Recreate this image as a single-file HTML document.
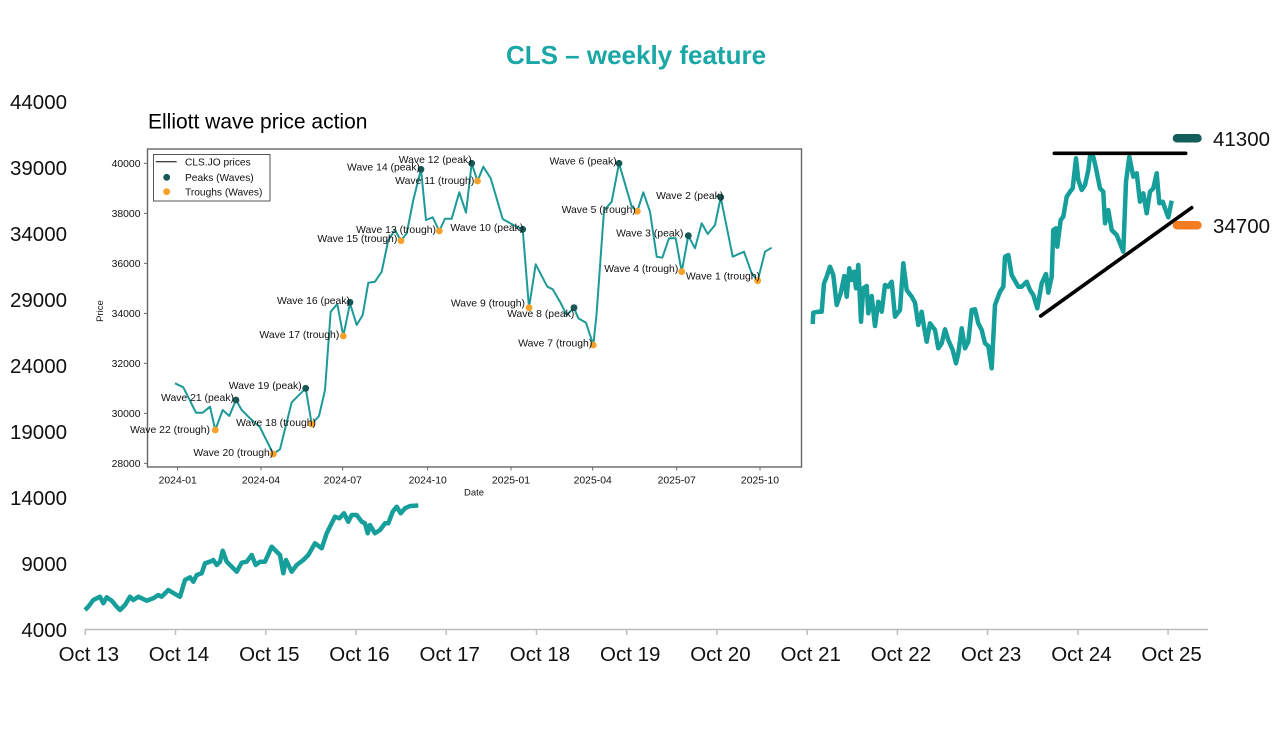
<!DOCTYPE html>
<html>
<head>
<meta charset="utf-8">
<style>
html,body{margin:0;padding:0;background:#fff;}
svg{display:block;}
text{font-family:"Liberation Sans",Arial,sans-serif;}
</style>
</head>
<body>
<svg width="1280" height="729" viewBox="0 0 1280 729" xmlns="http://www.w3.org/2000/svg">
<rect width="1280" height="729" fill="#fff"/>

<!-- Title -->
<text x="636" y="64" font-size="26" font-weight="bold" fill="#1aa7a6" text-anchor="middle">CLS – weekly feature</text>

<!-- Main y labels -->
<g font-size="20.5" fill="#111" text-anchor="end">
<text x="67" y="109">44000</text>
<text x="67" y="175">39000</text>
<text x="67" y="241">34000</text>
<text x="67" y="307">29000</text>
<text x="67" y="373">24000</text>
<text x="67" y="439">19000</text>
<text x="67" y="505">14000</text>
<text x="67" y="571">9000</text>
<text x="67" y="637">4000</text>
</g>

<!-- Main x axis -->
<line x1="85" y1="629.5" x2="1208" y2="629.5" stroke="#bdbdbd" stroke-width="1.5"/>
<g stroke="#bdbdbd" stroke-width="1.5">
<line x1="85.3" y1="629" x2="85.3" y2="635"/>
<line x1="175.5" y1="629" x2="175.5" y2="635"/>
<line x1="265.8" y1="629" x2="265.8" y2="635"/>
<line x1="356" y1="629" x2="356" y2="635"/>
<line x1="446.2" y1="629" x2="446.2" y2="635"/>
<line x1="536.5" y1="629" x2="536.5" y2="635"/>
<line x1="626.7" y1="629" x2="626.7" y2="635"/>
<line x1="716.9" y1="629" x2="716.9" y2="635"/>
<line x1="807.2" y1="629" x2="807.2" y2="635"/>
<line x1="897.4" y1="629" x2="897.4" y2="635"/>
<line x1="987.6" y1="629" x2="987.6" y2="635"/>
<line x1="1077.9" y1="629" x2="1077.9" y2="635"/>
<line x1="1168.1" y1="629" x2="1168.1" y2="635"/>
</g>
<g font-size="20.5" fill="#111" text-anchor="middle">
<text x="88.8" y="661">Oct 13</text>
<text x="179" y="661">Oct 14</text>
<text x="269.3" y="661">Oct 15</text>
<text x="359.5" y="661">Oct 16</text>
<text x="449.7" y="661">Oct 17</text>
<text x="540" y="661">Oct 18</text>
<text x="630.2" y="661">Oct 19</text>
<text x="720.4" y="661">Oct 20</text>
<text x="810.7" y="661">Oct 21</text>
<text x="900.9" y="661">Oct 22</text>
<text x="991.1" y="661">Oct 23</text>
<text x="1081.4" y="661">Oct 24</text>
<text x="1171.6" y="661">Oct 25</text>
</g>

<!-- Main series (visible parts) -->
<g fill="none" stroke="#169e9b" stroke-width="4.5" stroke-linejoin="round">
<polyline points="85,610 88.3,606.7 93.3,600 100,596.7 103.3,603.3 106.7,597.3 111.7,600.7 116.7,606.7 120,610 125,605 130,596.7 133.3,600 138.3,596.7 146.7,600.7 153.3,598.3 158.3,595 161.7,596.7 168.3,590 176.7,595 180,596.7 185,580 190,577.3 193.3,581.7 196.7,575 201.7,573.3 205,563.3 210,561.7 213.3,560 216.7,565 220,561.7 222.7,550.7 226.7,561.7 231.7,566.7 236.7,571.7 241.7,562.7 246.7,561.7 251.7,555 255.7,565 260,561.7 265,561.7 271.7,546.7 276.7,551.7 280,555 283.3,573.3 286,560 291.7,571.7 296.7,565 303.3,560 308.3,555 315,543.3 321.7,548.3 326.7,533.3 335,516.7 339.3,518.3 344,513.3 348.3,521.7 351.7,515 356.7,515 361.7,521.7 365,523.3 367.7,533.3 370,525 375,533.3 380,530 385,523.3 388.3,523.3 392.7,511.7 396.7,506.7 400.7,513.3 405,508.3 410,506 418.3,505.5"/>
<polyline points="812.7,324 813.3,312.7 818.3,311.7 821.7,311.7 824,283.3 826.7,276.7 830,266.7 833.3,275 836.7,305 840.7,293.3 844.3,276 846.7,296.7 849.3,268.3 851.7,280 854,271.7 856,288.3 858.3,265 861,321.7 863.3,288.3 866.7,286 868.3,313.3 871.7,296 875,326 878.3,301.7 881.7,311.7 885,285 888.3,286.7 891.7,281.7 895,316.7 900,310 903.3,263.3 906.7,290 911.7,296.7 915,302.7 918.3,325 921.7,311.7 924,326.7 926.7,341.7 930,323.3 935,330 938.3,348.3 941.7,343.3 945,329.3 948.3,340 952.7,350 956,363.3 958.3,353.3 961.7,328.3 965,348.3 968.3,341.7 971.7,310 975,309.3 978.3,323.3 981.7,330 985,343.3 988.3,346 991.7,368.3 995,305 1000,291.7 1003.3,286.7 1005,256.7 1008.3,255 1011.7,275 1018.3,286.7 1021.7,286.7 1026.7,281.7 1030,290 1033.3,295 1037.3,308.3 1041.7,283.3 1046,274 1048.3,292.7 1051.7,276.7 1053.3,230 1056,228.3 1057.3,246.7 1060.7,220 1063.3,216.7 1066.7,196.7 1070,191.7 1072.7,188.3 1076,158.3 1078.3,180 1081.7,190 1085,185 1088.3,170 1090,156 1093.3,156.7 1096,168.3 1100,188.3 1103.3,191.7 1105,223.3 1108.3,210 1111.7,230 1116.7,235 1123.3,251.7 1126,181.7 1129.3,156.7 1133.3,176.7 1136.7,173.3 1140,201.7 1143.3,193.3 1146.7,213.3 1150,191.7 1153.3,188.3 1156.7,173.3 1159.3,203.3 1162.7,201.7 1165,208.3 1168.3,217.3 1171.7,200.7"/>
</g>

<!-- Trend lines -->
<line x1="1054.3" y1="153.3" x2="1185.7" y2="153.3" stroke="#000" stroke-width="3.6" stroke-linecap="round"/>
<line x1="1040.7" y1="316" x2="1191.7" y2="207.7" stroke="#000" stroke-width="3.6" stroke-linecap="round"/>

<!-- Right markers -->
<rect x="1172.7" y="134" width="29" height="8.5" rx="4.25" fill="#135d5b"/>
<text x="1213" y="146" font-size="20.5" fill="#111">41300</text>
<rect x="1172.7" y="221" width="29" height="8.5" rx="4.25" fill="#f47c20"/>
<text x="1213" y="233" font-size="20.5" fill="#111">34700</text>

<!-- Inset -->
<text x="148" y="128.3" font-size="21" fill="#000">Elliott wave price action</text>
<rect x="147.5" y="149" width="654" height="318" fill="#fff" stroke="#666" stroke-width="1.4"/>

<!-- inset y ticks -->
<g stroke="#444" stroke-width="0.8">
<line x1="144" y1="163.3" x2="147" y2="163.3"/>
<line x1="144" y1="213.3" x2="147" y2="213.3"/>
<line x1="144" y1="263.3" x2="147" y2="263.3"/>
<line x1="144" y1="313.3" x2="147" y2="313.3"/>
<line x1="144" y1="363.3" x2="147" y2="363.3"/>
<line x1="144" y1="413.3" x2="147" y2="413.3"/>
<line x1="144" y1="463.3" x2="147" y2="463.3"/>
<line x1="177.7" y1="467.5" x2="177.7" y2="470.5"/>
<line x1="261" y1="467.5" x2="261" y2="470.5"/>
<line x1="342.7" y1="467.5" x2="342.7" y2="470.5"/>
<line x1="427.7" y1="467.5" x2="427.7" y2="470.5"/>
<line x1="511" y1="467.5" x2="511" y2="470.5"/>
<line x1="592.7" y1="467.5" x2="592.7" y2="470.5"/>
<line x1="676.7" y1="467.5" x2="676.7" y2="470.5"/>
<line x1="760" y1="467.5" x2="760" y2="470.5"/>
</g>
<g font-size="10.4" fill="#111" text-anchor="end">
<text x="140.5" y="167">40000</text>
<text x="140.5" y="217">38000</text>
<text x="140.5" y="267">36000</text>
<text x="140.5" y="317">34000</text>
<text x="140.5" y="367">32000</text>
<text x="140.5" y="417">30000</text>
<text x="140.5" y="467">28000</text>
</g>
<g font-size="10.4" fill="#111" text-anchor="middle">
<text x="177.7" y="483.7">2024-01</text>
<text x="261" y="483.7">2024-04</text>
<text x="342.7" y="483.7">2024-07</text>
<text x="427.7" y="483.7">2024-10</text>
<text x="511" y="483.7">2025-01</text>
<text x="592.7" y="483.7">2025-04</text>
<text x="676.7" y="483.7">2025-07</text>
<text x="760" y="483.7">2025-10</text>
</g>
<text x="474" y="495.5" font-size="9.5" fill="#111" text-anchor="middle">Date</text>
<text transform="translate(103,311) rotate(-90)" font-size="9.5" fill="#111" text-anchor="middle">Price</text>

<!-- inset series -->
<polyline fill="none" stroke="#1d9a97" stroke-width="2" stroke-linejoin="round" points="175,383.3 183.3,387.3 196,412.7 202.7,412.7 210,406.7 215.3,430 222.7,410 229.3,416 236,400 241.7,410 250,418.3 260,427.3 273.3,454 280,449.3 291.7,402.3 305.7,388.3 311.7,424 319,416 325,390 330.7,311.7 337.3,304 343.3,336 350,303.3 356.7,325 362.7,315 368.3,282.7 375,281.7 381.7,271.7 388.3,240 395,230 401,240.7 406.7,233.3 413.3,200 421,169.3 426,220 432.7,217.3 439.3,231 445,218.7 451.7,218.7 459.3,192.3 466,212.7 471.7,163.3 477.5,181 483.3,166.7 490.7,178.3 502.7,219 513.3,225 522.7,229.3 529,307.7 535.7,264.3 547.3,286.7 552.7,289.3 560,301.7 566.7,315 574,307.7 578.3,318.3 586,322.7 593.3,345 596.5,315 604,210.7 611.7,201.7 619,163.3 631.7,206.7 637.3,211.3 643.3,192.3 650,211.7 656.7,256.7 662.3,257.7 669,238.3 675.7,238.3 681.7,271.7 688.3,235.7 695,248.3 701.7,223.3 707.7,234 715,225 720.7,197.3 732.7,256.7 744,251.7 751.7,273.3 757.7,280.7 765,251.7 771.7,247.7"/>

<!-- peaks -->
<g fill="#175856">
<circle cx="236" cy="400" r="3.4"/>
<circle cx="305.7" cy="388.3" r="3.4"/>
<circle cx="350" cy="302.3" r="3.4"/>
<circle cx="421" cy="169.3" r="3.4"/>
<circle cx="471.7" cy="163.3" r="3.4"/>
<circle cx="522.7" cy="229.3" r="3.4"/>
<circle cx="574" cy="307.7" r="3.4"/>
<circle cx="619" cy="163.3" r="3.4"/>
<circle cx="688.3" cy="235.7" r="3.4"/>
<circle cx="720.7" cy="197.3" r="3.4"/>
</g>
<!-- troughs -->
<g fill="#f7a02a">
<circle cx="215.3" cy="430" r="3.4"/>
<circle cx="273.3" cy="454" r="3.4"/>
<circle cx="311.7" cy="424" r="3.4"/>
<circle cx="343.3" cy="336" r="3.4"/>
<circle cx="401" cy="240.7" r="3.4"/>
<circle cx="439.3" cy="231" r="3.4"/>
<circle cx="477.5" cy="181" r="3.4"/>
<circle cx="529" cy="307.7" r="3.4"/>
<circle cx="593.3" cy="345" r="3.4"/>
<circle cx="637.3" cy="211.3" r="3.4"/>
<circle cx="681.7" cy="271.7" r="3.4"/>
<circle cx="757.7" cy="280.7" r="3.4"/>
</g>

<!-- annotations -->
<g font-size="10.4" fill="#111" text-anchor="end">
<text x="471.7" y="162.8">Wave 12 (peak)</text>
<text x="420" y="170.5">Wave 14 (peak)</text>
<text x="474.3" y="183.8">Wave 11 (trough)</text>
<text x="436" y="232.8">Wave 13 (trough)</text>
<text x="397.3" y="242.1">Wave 15 (trough)</text>
<text x="350" y="303.8">Wave 16 (peak)</text>
<text x="339.3" y="337.8">Wave 17 (trough)</text>
<text x="301.7" y="388.8">Wave 19 (peak)</text>
<text x="234" y="400.8">Wave 21 (peak)</text>
<text x="210" y="432.8">Wave 22 (trough)</text>
<text x="316" y="425.8">Wave 18 (trough)</text>
<text x="273.3" y="456.1">Wave 20 (trough)</text>
<text x="616.7" y="164.5">Wave 6 (peak)</text>
<text x="523.3" y="231.1">Wave 10 (peak)</text>
<text x="635.7" y="212.8">Wave 5 (trough)</text>
<text x="723.3" y="198.8">Wave 2 (peak)</text>
<text x="683.3" y="236.5">Wave 3 (peak)</text>
<text x="678.3" y="272.1">Wave 4 (trough)</text>
<text x="760" y="279.5">Wave 1 (trough)</text>
<text x="525" y="306.5">Wave 9 (trough)</text>
<text x="574.3" y="317.1">Wave 8 (peak)</text>
<text x="592.3" y="346.5">Wave 7 (trough)</text>
</g>

<!-- legend -->
<rect x="153.5" y="154.5" width="116.5" height="46.5" fill="#fff" stroke="#555" stroke-width="1"/>
<line x1="155.7" y1="161.7" x2="176.7" y2="161.7" stroke="#000" stroke-width="1"/>
<circle cx="166.7" cy="177.3" r="3.4" fill="#175856"/>
<circle cx="166.7" cy="191.7" r="3.4" fill="#f7a02a"/>
<g font-size="10.2" fill="#111">
<text x="185" y="165.4">CLS.JO prices</text>
<text x="185" y="181">Peaks (Waves)</text>
<text x="185" y="195.4">Troughs (Waves)</text>
</g>
</svg>
</body>
</html>
